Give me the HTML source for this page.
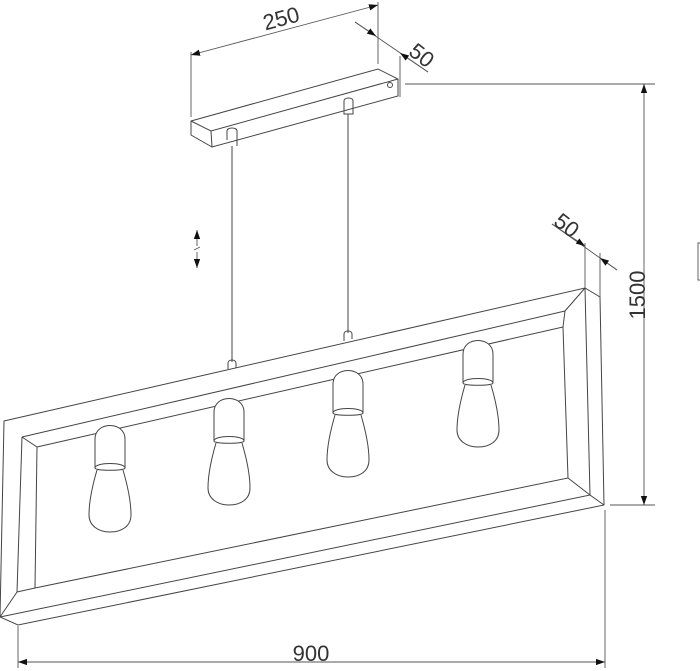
<!DOCTYPE html>
<html><head><style>
html,body{margin:0;padding:0;background:#fff;}
svg{display:block;}
text{font-family:"Liberation Sans",sans-serif;fill:#333;font-size:22px;}
</style></head><body>
<svg width="700" height="671" viewBox="0 0 700 671" xmlns="http://www.w3.org/2000/svg">
<defs>
<marker id="a" viewBox="0 0 10 10" refX="10" refY="5" markerWidth="9" markerHeight="9" orient="auto-start-reverse" markerUnits="userSpaceOnUse"><path d="M0,1.5 L10,5 L0,8.5 z" fill="#111"/></marker>
<g id="bulb" fill="#fff" stroke="#444" stroke-width="1">
<path d="M2,45 C-3,62 -6,78 -6,90 C-6,101 4,107 15,107 C27,107 36,101 36,90 C36,78 33,62 28,45"/>
<path d="M0,43 L0,14 C0,-4 30,-4 30,14 L30,43"/>
<path d="M0,43 C0,37 30,37 30,43 C30,46 0,46 0,43 z"/>
</g>
</defs>
<g fill="none" stroke="#444" stroke-width="1">
<path d="M191,121 L378,69 L398,79 L398,96 L212,147 L191,135 Z"/>
<path d="M191,121 L211,131 L398,79"/>
<path d="M211,131 L212,147"/>
<circle cx="390" cy="85" r="2.5"/>
<path d="M227,140 L227,131 C227,127 237,127 237,131 L237,146"/>
<path d="M344,109 L344,101 C344,97 353,97 353,101 L353,114 L344,114 Z"/>
<path d="M232,146 L232,362 M348,114 L348,333"/>
<path d="M228,369 L228,363 C228,359 236,359 236,363 L236,368"/>
<path d="M344,341 L344,334 C344,330 352,330 352,334 L352,339"/>
<path d="M4,421 L585,288 L600,297 L604,505 L18,625 L0,617 Z"/>
<path d="M0,617 L590,495 L604,505"/>
<path d="M585,288 L590,495"/>
<path d="M22,437 L565,311 M585,288 L565,311"/>
<path d="M37,447 L563,327 L568,478 L35,588 Z"/>
<path d="M22,437 L17,592 L35,588 M17,592 L0,617 M568,478 L590,495 M565,311 L563,327 M22,437 L37,447"/>
</g>
<use href="#bulb" x="95" y="425"/>
<use href="#bulb" x="214" y="398"/>
<use href="#bulb" x="333" y="370"/>
<use href="#bulb" x="463" y="340"/>
<g fill="none" stroke="#555" stroke-width="0.9">
<path d="M191,52 L191,117 M378,2 L378,64"/>
<path d="M191,55 L378,5" marker-start="url(#a)" marker-end="url(#a)"/>
<path d="M355,22 L428,72"/>
<path d="M355,22 L376,36" marker-end="url(#a)"/>
<path d="M428,72 L400,53" marker-end="url(#a)"/>
<path d="M400,56 L400,97"/>
<path d="M405,84 L655,84 M610,505 L655,505"/>
<path d="M644,84 L644,505" marker-start="url(#a)" marker-end="url(#a)"/>
<path d="M552,224 L617,270"/>
<path d="M552,224 L585,246" marker-end="url(#a)"/>
<path d="M617,270 L600,258" marker-end="url(#a)"/>
<path d="M585,243 L585,288 M600,253 L600,297"/>
<path d="M18,626 L18,668 M605,510 L605,668"/>
<path d="M18,662 L605,662" marker-start="url(#a)" marker-end="url(#a)"/>
<path d="M197,246 L197,230" marker-end="url(#a)"/>
<path d="M197,252 L197,268" marker-end="url(#a)"/>
<path d="M194,250 L200,247"/>
<path d="M710,243 L698,243 L698,280 L710,280"/>
</g>
<text x="281" y="26" text-anchor="middle" transform="rotate(-15 281 18)">250</text>
<text x="422" y="63" text-anchor="middle" transform="rotate(38 422 55)">50</text>
<text x="567" y="233" text-anchor="middle" transform="rotate(38 567 225)">50</text>
<text x="637" y="303" text-anchor="middle" transform="rotate(-90 637 295)">1500</text>
<text x="311" y="661" text-anchor="middle">900</text>
</svg>
</body></html>
